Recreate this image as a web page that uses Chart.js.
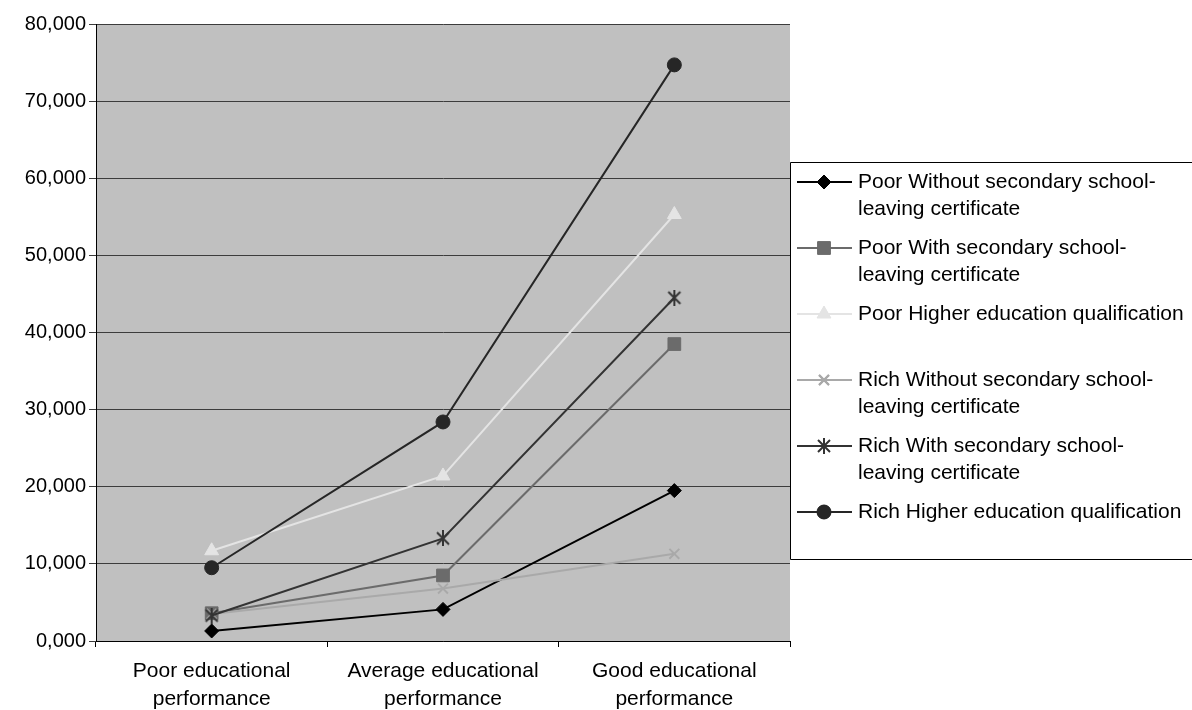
<!DOCTYPE html>
<html>
<head>
<meta charset="utf-8">
<script src="https://cdn.jsdelivr.net/npm/chart.js@4.4.0/dist/chart.umd.min.js"></script>
<style>
  body { margin: 0; background: #fff; }
  #wrap { width: 1192px; height: 710px; position: relative; }
</style>
</head>
<body>
<div id="wrap"><canvas id="lineChart"></canvas></div>
<script>
// categories on the x axis (two lines each)
const categories = [
    ['Poor educational', 'performance'],
    ['Average educational', 'performance'],
    ['Good educational', 'performance']
];

// legend names, split in two lines where the original wraps
const seriesNames = [
    ['Poor Without secondary school-', 'leaving certificate'],
    ['Poor With secondary school-', 'leaving certificate'],
    ['Poor Higher education qualification'],
    ['Rich Without secondary school-', 'leaving certificate'],
    ['Rich With secondary school-', 'leaving certificate'],
    ['Rich Higher education qualification']
];

// values
const poorWithout = [1300, 4100, 19500];
const poorWith = [3600, 8500, 38500];
const poorHigher = [11700, 21400, 55300];
const richWithout = [3500, 6800, 11300];
const richWith = [3300, 13300, 44500];
const richHigher = [9500, 28400, 74700];

const yMin = 0;
const yMax = 80000;
const yStep = 10000;

const FONT = "'Liberation Sans', Arial, sans-serif";

// excel style asterisk marker (x plus a vertical bar)
function asterisk(color) {
    const c = document.createElement('canvas');
    c.width = 16;
    c.height = 16;
    const g = c.getContext('2d');
    g.strokeStyle = color;
    g.lineWidth = 2;
    g.beginPath();
    g.moveTo(2, 2); g.lineTo(14, 14);
    g.moveTo(14, 2); g.lineTo(2, 14);
    g.moveTo(8, 0); g.lineTo(8, 16);
    g.stroke();
    return c;
}

function makeSet(i, data, color, style, radius) {
    return {
        label: seriesNames[i],
        data: data,
        borderColor: color,
        backgroundColor: color,
        borderWidth: 2,
        pointStyle: style,
        pointRadius: radius,
        pointHoverRadius: radius,
        pointBorderWidth: style === 'crossRot' ? 2 : 1,
        pointBorderColor: color,
        pointBackgroundColor: color,
        tension: 0,
        order: 6 - i // later series drawn on top, like the original
    };
}

const plotBackground = {
    id: 'plotBackground',
    beforeDraw(chart) {
        const { ctx, chartArea } = chart;
        ctx.save();
        ctx.fillStyle = '#c0c0c0';
        ctx.fillRect(chartArea.left, chartArea.top, chartArea.right - chartArea.left, chartArea.bottom - chartArea.top);
        ctx.restore();
    }
};

const boxLegend = {
    id: 'boxLegend',
    afterDraw(chart) {
        const ctx = chart.ctx;
        const left = chart.chartArea.right;
        const top = 162;
        const bottom = 559;
        ctx.save();
        ctx.strokeStyle = '#000';
        ctx.lineWidth = 1;
        ctx.beginPath();
        ctx.moveTo(chart.width, top + 0.5);
        ctx.lineTo(left + 0.5, top + 0.5);
        ctx.lineTo(left + 0.5, bottom + 0.5);
        ctx.lineTo(chart.width, bottom + 0.5);
        ctx.stroke();

        ctx.font = '21px ' + FONT;
        ctx.textBaseline = 'middle';
        ctx.textAlign = 'left';
        chart.data.datasets.forEach((ds, i) => {
            const y = 182 + i * 66;
            ctx.strokeStyle = ds.borderColor;
            ctx.lineWidth = 2;
            ctx.beginPath();
            ctx.moveTo(left + 7, y);
            ctx.lineTo(left + 62, y);
            ctx.stroke();
            ctx.fillStyle = ds.borderColor;
            ctx.lineWidth = ds.pointBorderWidth;
            Chart.helpers.drawPoint(ctx, {
                pointStyle: ds.pointStyle,
                radius: ds.pointRadius,
                rotation: 0,
                borderWidth: ds.pointBorderWidth
            }, left + 34, y);
            if (ds.pointStyle === 'crossRot') {
                ctx.stroke();
            } else if (typeof ds.pointStyle === 'string') {
                ctx.fill();
            }
            ctx.fillStyle = '#000';
            ds.label.forEach((line, k) => {
                ctx.fillText(line, left + 68, y + k * 27);
            });
        });
        ctx.restore();
    }
};

const ctx = document.getElementById('lineChart').getContext('2d');
new Chart(ctx, {
    type: 'line',
    data: {
        labels: categories,
        datasets: [
            makeSet(0, poorWithout, '#000000', 'rectRot', 7),
            makeSet(1, poorWith, '#6b6b6b', 'rect', 9),
            makeSet(2, poorHigher, '#e4e4e4', 'triangle', 8),
            makeSet(3, richWithout, '#a9a9a9', 'crossRot', 7),
            makeSet(4, richWith, '#333333', asterisk('#333333'), 8),
            makeSet(5, richHigher, '#262626', 'circle', 7)
        ]
    },
    plugins: [plotBackground, boxLegend],
    options: {
        responsive: true,
        maintainAspectRatio: false,
        animation: false,
        layout: {
            padding: { left: 0, right: 402, top: 24, bottom: 0 }
        },
        plugins: {
            legend: { display: false },
            tooltip: { enabled: false }
        },
        scales: {
            x: {
                offset: true,
                grid: {
                    offset: true,
                    drawOnChartArea: false,
                    drawTicks: true,
                    tickLength: 6,
                    color: '#000'
                },
                border: { color: '#000', width: 1 },
                ticks: {
                    color: '#000',
                    font: { family: FONT, size: 21, lineHeight: 1.35 },
                    maxRotation: 0,
                    autoSkip: false,
                    padding: 10
                },
                afterFit(scale) { scale.height = 69; }
            },
            y: {
                min: yMin,
                max: yMax,
                grid: {
                    color: '#3c3c3c',
                    tickLength: 7
                },
                border: { color: '#000', width: 1 },
                ticks: {
                    stepSize: yStep,
                    color: '#000',
                    font: { family: FONT, size: 20 },
                    padding: 3,
                    callback: v => (v / 1000) + ',000'
                },
                afterFit(scale) { scale.width = 96; }
            }
        }
    }
});
</script>
</body>
</html>
